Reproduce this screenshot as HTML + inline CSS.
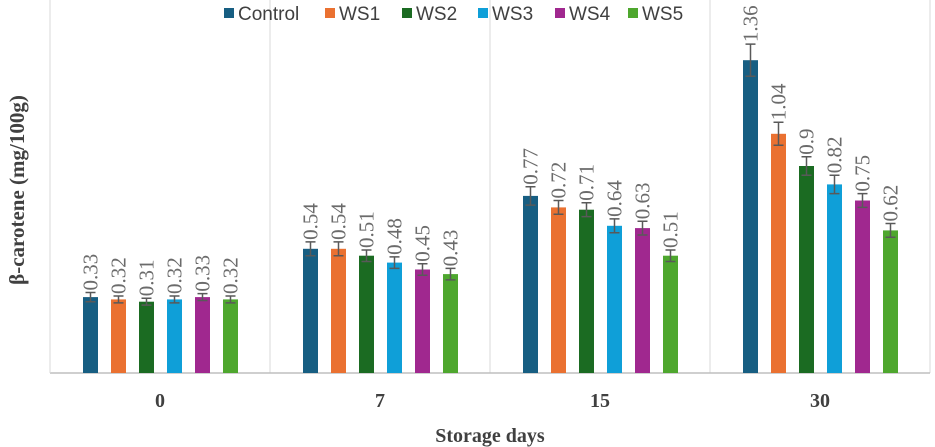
<!DOCTYPE html>
<html><head><meta charset="utf-8"><style>
body{margin:0;background:#fff;width:935px;height:447px;overflow:hidden}
svg{display:block}
</style></head><body>
<svg id="chart" width="935" height="447">
<g id="grid"></g><g id="bars"></g><g id="legend"></g>
<text x="24" y="190" transform="rotate(-90 24 190)" text-anchor="middle" font-family="Liberation Serif, serif" font-weight="bold" font-size="21" fill="#404040">β-carotene (mg/100g)</text>
<text x="490" y="442" text-anchor="middle" font-family="Liberation Serif, serif" font-weight="bold" font-size="20" fill="#404040">Storage days</text>
</svg>
<script>
const categories=["0","7","15","30"];
const seriesNames=["Control","WS1","WS2","WS3","WS4","WS5"];
const colors=["#175e82","#ea7131","#1b6b22","#0f9fd8","#a0288f","#4ea72e"];
const values=[
 [0.33,0.54,0.77,1.36],
 [0.32,0.54,0.72,1.04],
 [0.31,0.51,0.71,0.90],
 [0.32,0.48,0.64,0.82],
 [0.33,0.45,0.63,0.75],
 [0.32,0.43,0.51,0.62]];
const errors=[
 [0.02,0.03,0.04,0.07],
 [0.015,0.03,0.03,0.05],
 [0.015,0.025,0.03,0.04],
 [0.015,0.025,0.03,0.04],
 [0.015,0.025,0.03,0.03],
 [0.015,0.025,0.025,0.03]];
const NS="http://www.w3.org/2000/svg";
const L=50,R=930,B=373,K=230,GW=220;
const y=v=>B-v*K;
const gx=i=>L+GW*i;
function mk(t,a,p){const e=document.createElementNS(NS,t);for(const k in a)e.setAttribute(k,a[k]);p.appendChild(e);return e;}
const grid=document.getElementById('grid'),bars=document.getElementById('bars'),leg=document.getElementById('legend');
for(let i=1;i<categories.length;i++){const l=mk('line',{x1:gx(i),x2:gx(i),y1:0,y2:B,stroke:'#d9d9d9'},grid);

}
const rl=mk('line',{x1:R,x2:R,y1:0,y2:B,stroke:'#d9d9d9'},grid);


const ax=mk('line',{x1:L,x2:R,y1:B,y2:B,stroke:'#bfbfbf','stroke-width':1.5},grid);


const ay=mk('line',{x1:L,x2:L,y1:0,y2:B,stroke:'#d9d9d9'},grid);


categories.forEach((c,i)=>{
 const cx=gx(i)+GW/2;
 const t=mk('text',{x:cx,y:407,'text-anchor':'middle','font-family':'Liberation Serif, serif','font-weight':'bold','font-size':20,fill:'#404040'},grid);
 t.textContent=c;
 
 
 seriesNames.forEach((s,j)=>{
  const v=values[j][i],e=errors[j][i];
  const bx=cx-77+28*j;
  const r=mk('rect',{x:bx,y:y(v),width:15,height:B-y(v),fill:colors[j]},bars);
  
  
  const mx=bx+7.5,t1=y(v+e),t2=y(v-e);
  const eb=mk('path',{d:`M${mx},${t1}V${t2}M${mx-5},${t1}H${mx+5}M${mx-5},${t2}H${mx+5}`,stroke:'#595959','stroke-width':1.5,fill:'none'},bars);
  
  
  const ly=t1-2, lxp=mx+7;
  const lb=mk('text',{x:lxp,y:ly,transform:`rotate(-90 ${lxp} ${ly})`,'font-family':'Liberation Serif, serif','font-size':21,fill:'#6b6b6b'},bars);
  lb.textContent=String(v);
  
  
 });
});
const lx=[224,325,402,478,555,628];
seriesNames.forEach((s,j)=>{
 const g=mk('g',{},leg);
 
 
 mk('rect',{x:lx[j],y:8,width:10,height:10,fill:colors[j]},g);
 const t=mk('text',{x:lx[j]+14,y:20,'font-family':'Liberation Sans, sans-serif','font-size':19,fill:'#404040'},g);
 t.textContent=s;
});
</script>
</body></html>
